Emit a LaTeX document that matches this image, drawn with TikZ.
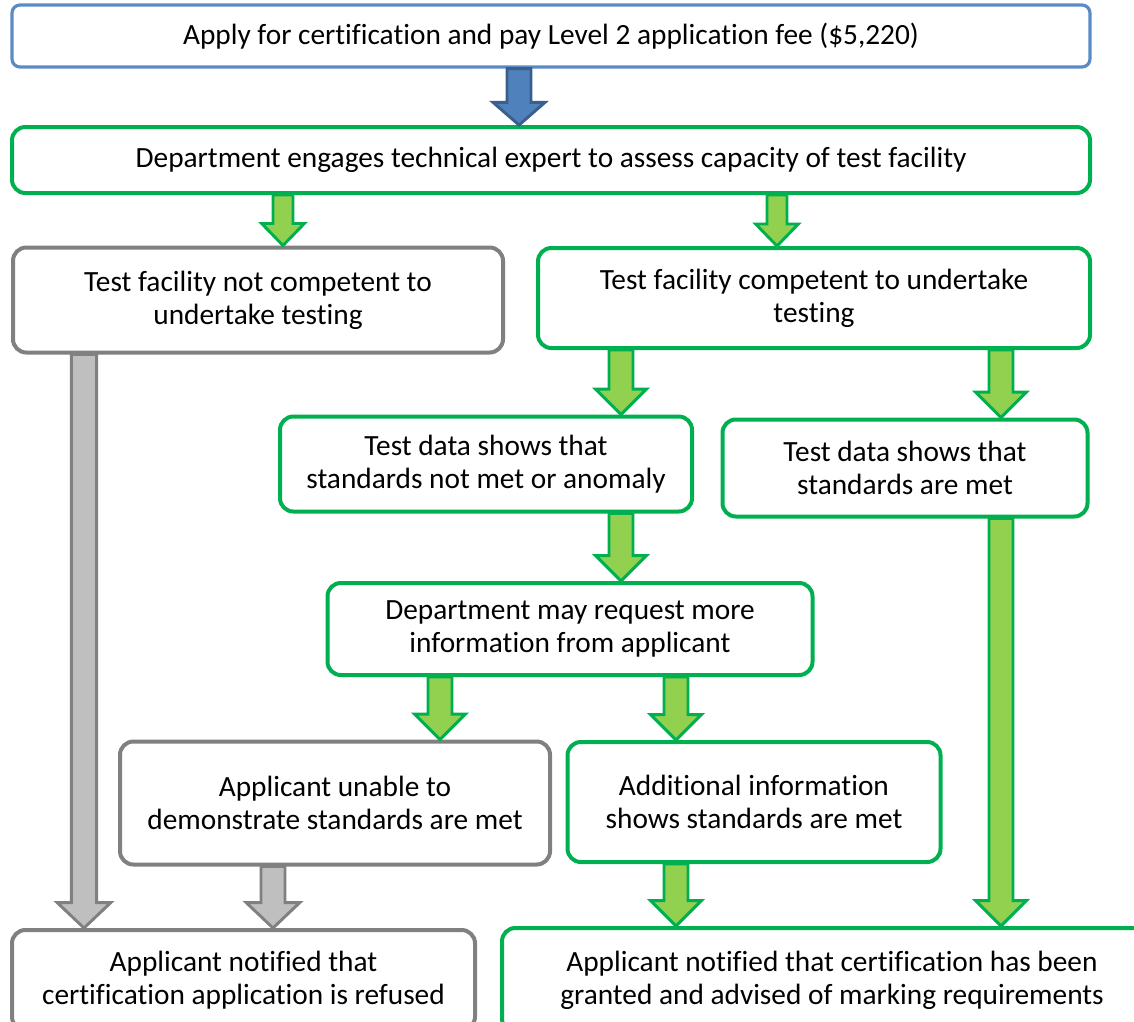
\documentclass[tikz,border=0pt]{standalone}
\usepackage{fontspec}
\setmainfont[Ligatures={NoCommon}]{Carlito}
\usetikzlibrary{calc}
\definecolor{gborder}{HTML}{00B050}
\definecolor{gfill}{HTML}{92D050}
\definecolor{greyline}{HTML}{808080}
\definecolor{greyfill}{HTML}{BFBFBF}
\definecolor{bborder}{HTML}{5B8BC7}
\definecolor{bfill}{HTML}{4F81BD}
\definecolor{bstroke}{HTML}{3A5F8C}
% #1 style, #2 from node, #3 to node, #4 x coordinate, #5 shaft half width, #6 head half width, #7 head length
\newcommand\blockarrow[7]{%
  \path[#1] let \p1=(#4 |- #2.south), \p2=(#4 |- #3.north) in
    (\x1-#5,\y1) -- (\x1+#5,\y1) -- (\x1+#5,\y2+#7) -- (\x1+#6,\y2+#7) -- (\x1,\y2)
    -- (\x1-#6,\y2+#7) -- (\x1-#5,\y2+#7) -- cycle;}
\begin{document}
\begin{tikzpicture}[x=0.75pt,y=-0.75pt,
  sz/.style 2 args={minimum width=#1*0.75pt, minimum height=#2*0.75pt},
  box/.style={draw, line width=3pt, rounded corners=10pt, fill=white, align=center,
    inner sep=0pt, text=black, font=\fontsize{22}{25}\selectfont},
  gbox/.style={box, draw=gborder},
  ybox/.style={box, draw=greyline},
  bbox/.style={box, draw=bborder, line width=2.4pt, rounded corners=6pt},
  garr/.style={draw=gborder, fill=gfill, line width=2.2pt, line join=miter},
  yarr/.style={draw=greyline, fill=greyfill, line width=2.2pt, line join=miter},
  barr/.style={draw=bstroke, fill=bfill, line width=2.2pt, line join=miter}]
\useasboundingbox (0,0) rectangle (1134,1021);
\clip (0,0) rectangle (1134,1021);

\node[bbox, sz={1078}{62}] (apply) at (551,36) {Apply for certification and pay Level 2 application fee (\$5,220)};
\node[gbox, sz={1078}{66}] (engage) at (551,160) {Department engages technical expert to assess capacity of test facility};
\node[ybox, sz={490}{105}] (notcomp) at (258,300) {Test facility not competent to\\undertake testing};
\node[gbox, sz={552}{100}] (comp) at (814,298) {Test facility competent to undertake\\testing};
\node[gbox, sz={412}{95}] (notmet) at (486,464) {Test data shows that\\standards not met or anomaly};
\node[gbox, sz={365}{97}] (met) at (905,468) {Test data shows that\\standards are met};
\node[gbox, sz={485}{92}] (request) at (570,629) {Department may request more\\information from applicant};
\node[ybox, sz={430}{123}] (unable) at (335,803) {Applicant unable to\\demonstrate standards are met};
\node[gbox, sz={373}{120}] (addinfo) at (754,802) {Additional information\\shows standards are met};
\node[ybox, sz={463}{100}] (refused) at (243.5,980) {Applicant notified that\\certification application is refused};
\node[gbox, sz={660}{104}] (granted) at (832,980) {Applicant notified that certification has been\\granted and advised of marking requirements};

\coordinate (xa) at (519,0);
\coordinate (xb) at (283,0);
\coordinate (xc) at (777,0);
\coordinate (xd) at (84,0);
\coordinate (xe) at (621,0);
\coordinate (xf) at (1001,0);
\coordinate (xg) at (440,0);
\coordinate (xh) at (676,0);
\coordinate (xi) at (273,0);

\blockarrow{barr}{apply}{engage}{xa}{9pt}{19.5pt}{17pt}
\blockarrow{garr}{engage}{notcomp}{xb}{7.5pt}{16pt}{16.5pt}
\blockarrow{garr}{engage}{comp}{xc}{7.5pt}{16pt}{16.5pt}
\blockarrow{yarr}{notcomp}{refused}{xd}{9.5pt}{20pt}{19pt}
\blockarrow{garr}{comp}{notmet}{xe}{9pt}{19pt}{19pt}
\blockarrow{garr}{comp}{met}{xf}{9pt}{19pt}{19pt}
\blockarrow{garr}{notmet}{request}{xe}{9pt}{19pt}{19pt}
\blockarrow{garr}{met}{granted}{xf}{9pt}{19pt}{19pt}
\blockarrow{garr}{request}{unable}{xg}{9pt}{19pt}{19pt}
\blockarrow{garr}{request}{addinfo}{xh}{9pt}{19pt}{19pt}
\blockarrow{yarr}{unable}{refused}{xi}{9pt}{20pt}{19pt}
\blockarrow{garr}{addinfo}{granted}{xh}{9pt}{19pt}{19pt}
\end{tikzpicture}
\end{document}
